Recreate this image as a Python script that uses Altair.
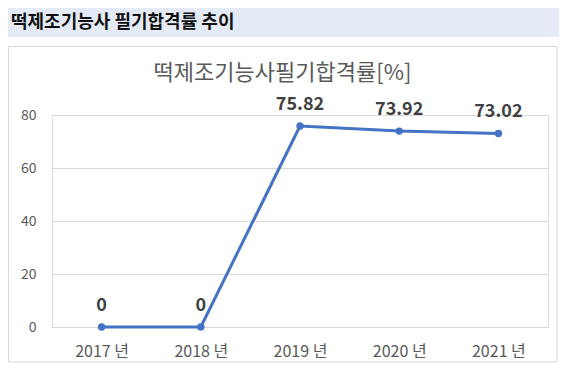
import altair as alt
import pandas as pd

years = ["2017 년", "2018 년", "2019 년", "2020 년", "2021 년"]
rates = [0, 0, 75.82, 73.92, 73.02]
labels = ["0", "0", "75.82", "73.92", "73.02"]
y_ticks = [0, 20, 40, 60, 80]
header_title = "떡제조기능사 필기합격률 추이"
chart_title = "떡제조기능사필기합격률[%]"

df = pd.DataFrame({"year": years, "rate": rates, "label": labels})

FONT = "Noto Sans CJK KR"
W, H = 496, 212

x_enc = alt.X("year:N", sort=years, scale=alt.Scale(type="point", padding=0.5),
              axis=alt.Axis(title=None, labelAngle=0, ticks=False, domain=True,
                            domainColor="#D9D9D9", labelColor="#595959",
                            labelFontSize=16, labelPadding=16, labelFont=FONT))
y_enc = alt.Y("rate:Q", scale=alt.Scale(domain=[0, 80]),
              axis=alt.Axis(title=None, values=y_ticks, ticks=False, domain=False,
                            gridColor="#D9D9D9", labelColor="#595959",
                            labelFontSize=14, labelPadding=16, labelFont=FONT))

base = alt.Chart(df)

line = base.mark_line(color="#4472C4", strokeWidth=3).encode(x=x_enc, y=y_enc)
pts = base.mark_point(filled=True, color="#4472C4", size=55, opacity=1).encode(x=x_enc, y=y_enc)
txt = base.mark_text(fontSize=18, fontWeight="bold", color="#404040", dy=-21,
                     baseline="middle", font=FONT).encode(x=x_enc, y=y_enc, text="label:N")

header_bg = alt.Chart(pd.DataFrame({"a": [0]})).mark_rect(color="#E4EBF7").encode(
    x=alt.value(-44), x2=alt.value(507), y=alt.value(-107), y2=alt.value(-78))
border = alt.Chart(pd.DataFrame({"a": [0]})).mark_rect(
    fillOpacity=0, stroke="#D9D9D9", strokeWidth=1).encode(
    x=alt.value(-43.5), x2=alt.value(505), y=alt.value(-68.5), y2=alt.value(247))
header_txt = alt.Chart(pd.DataFrame({"t": [header_title]})).mark_text(
    align="left", baseline="middle", fontSize=18, fontWeight="bold", color="#111111", font=FONT
).encode(x=alt.value(-41), y=alt.value(-92), text="t:N")
title_txt = alt.Chart(pd.DataFrame({"t": [chart_title]})).mark_text(
    align="center", baseline="middle", fontSize=22, color="#595959", font=FONT
).encode(x=alt.value(230.5), y=alt.value(-42.5), text="t:N")

chart = alt.layer(header_bg, border, header_txt, title_txt, line, pts, txt).properties(
    width=W, height=H,
    autosize=alt.AutoSizeParams(type="none"),
    padding={"left": 44, "top": 107, "right": 11, "bottom": 53},
).configure_view(stroke=None).configure(background="white")

chart.save("out.html", embed_options={"renderer": "svg", "actions": False})
